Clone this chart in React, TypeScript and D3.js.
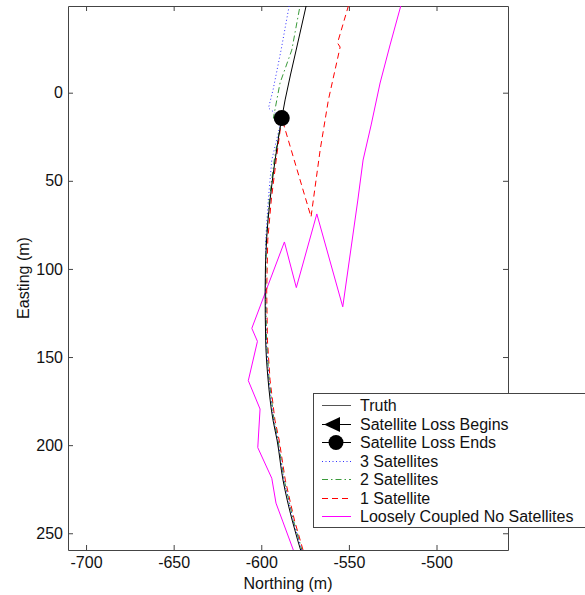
import React, { useRef, useEffect } from 'react';
import * as d3 from 'd3';

// [northing, easting] pairs
const truth = [
  [-573.1, -55], [-580.1, -24.2], [-586.4, 4.1], [-588.3, 14.4], [-592.1, 38.2], [-595, 60.9],
  [-597, 83.6], [-597.8, 112], [-597.5, 140.4], [-596.1, 163], [-593.3, 185.8], [-591, 197.1],
  [-587.6, 219.8], [-582.4, 242.5], [-575.9, 265],
];
const sat3 = [
  [-582.8, -55], [-584.1, -49.2], [-588.7, -24.2], [-593.3, -1.5], [-595.9, 8.7], [-588.3, 14.4],
  [-594, 38.2], [-596, 60.9], [-597.5, 83.6], [-597.6, 112], [-597.2, 140.4], [-595.7, 163],
  [-592.9, 185.8], [-590.6, 197.1], [-587.1, 219.8], [-581.9, 242.5], [-575.4, 265],
];
const sat2 = [
  [-576.7, -55], [-577.9, -49.2], [-582.6, -24.2], [-589.3, -5.5], [-593.1, 14.4], [-588.3, 14.4],
  [-592.6, 38.2], [-595.4, 60.9], [-597.2, 83.6], [-597.5, 112], [-597, 140.4], [-595.5, 163],
  [-592.7, 185.8], [-590.4, 197.1], [-586.9, 219.8], [-581.7, 242.5], [-575.2, 265],
];
const sat1 = [
  [-548.5, -55], [-550.3, -49.2], [-556.5, -28.2], [-555, -25.9], [-561.7, 4.1], [-566.4, 32.5],
  [-570.3, 60.9], [-571.6, 70.5], [-588.3, 14.4], [-591.5, 38.2], [-594.3, 60.9], [-596.3, 83.6],
  [-596.9, 112], [-596.5, 140.4], [-595, 163], [-592.2, 185.8], [-589.8, 197.1], [-586.3, 219.8],
  [-581.1, 242.5], [-574.6, 265],
];
const looselyCoupled = [
  [-518.7, -55.4], [-520.4, -49.2], [-526.5, -27.1], [-532.2, -5.5], [-537.3, 18.3], [-541.9, 38.2],
  [-544.9, 60.9], [-553.5, 121.5], [-568.3, 68.8], [-580, 110.6], [-586.8, 84.7], [-605.4, 133.7],
  [-602.2, 141.1], [-607.4, 163.4], [-600.7, 179.5], [-602, 201.4], [-594, 218.8], [-591.6, 232.9],
  [-587.8, 243.1], [-579.6, 265.2],
];
const lossEnds = [[-588.3, 14.4]];

const xTicks = [-700, -650, -600, -550, -500];
const yTicks = [0, 50, 100, 150, 200, 250];
const legendLabels = [
  'Truth',
  'Satellite Loss Begins',
  'Satellite Loss Ends',
  '3 Satellites',
  '2 Satellites',
  '1 Satellite',
  'Loosely Coupled No Satellites',
];

const FONT = '"Liberation Sans", Arial, sans-serif';
const FS = 16;

const App = () => {
  const svgRef = useRef(null);

  useEffect(() => {
    const svg = d3.select(svgRef.current);
    svg.selectAll('*').remove();

    const left = 68, right = 508, top = 6, bottom = 550;
    const x = d3.scaleLinear().domain([-710.3, -459.2]).range([left, right]);
    const y = d3.scaleLinear().domain([-49.2, 259.5]).range([top, bottom]);

    svg.append('rect').attr('width', 585).attr('height', 595).attr('fill', '#fff');

    svg.append('clipPath').attr('id', 'plot-clip')
      .append('rect')
      .attr('x', left).attr('y', top).attr('width', right - left).attr('height', bottom - top);

    const styleAxis = (g) => {
      g.attr('font-family', FONT).attr('font-size', FS);
      g.selectAll('path, line').attr('stroke', '#444');
      g.selectAll('text').attr('fill', '#111');
    };
    const fmt = (d) => String(d);

    svg.append('g').attr('transform', `translate(0,${bottom})`)
      .call(d3.axisBottom(x).tickValues(xTicks).tickFormat(fmt).tickSizeInner(-5).tickSizeOuter(0).tickPadding(7))
      .call(styleAxis);
    svg.append('g').attr('transform', `translate(${left},0)`)
      .call(d3.axisLeft(y).tickValues(yTicks).tickFormat(fmt).tickSizeInner(-5).tickSizeOuter(0).tickPadding(5))
      .call(styleAxis);
    svg.append('g').attr('transform', `translate(0,${top})`)
      .call(d3.axisTop(x).tickValues(xTicks).tickSizeInner(-5).tickSizeOuter(0).tickFormat(() => ''))
      .call(styleAxis);
    svg.append('g').attr('transform', `translate(${right},0)`)
      .call(d3.axisRight(y).tickValues(yTicks).tickSizeInner(-5).tickSizeOuter(0).tickFormat(() => ''))
      .call(styleAxis);

    const plot = svg.append('g').attr('clip-path', 'url(#plot-clip)');
    const line = d3.line().x((d) => x(d[0])).y((d) => y(d[1]));
    const smooth = d3.line().curve(d3.curveMonotoneY).x((d) => x(d[0])).y((d) => y(d[1]));

    const series = [
      { data: looselyCoupled, color: '#ff00ff', dash: null, gen: line },
      { data: sat1, color: '#ff0000', dash: '6,4', gen: line },
      { data: sat2, color: '#3a9a3a', dash: '6,3,1.5,3', gen: line },
      { data: sat3, color: '#3030ff', dash: '1,2.5', gen: line },
      { data: truth, color: '#000', dash: null, gen: smooth },
    ];
    series.forEach((s) => {
      plot.append('path')
        .attr('d', s.gen(s.data))
        .attr('fill', 'none')
        .attr('stroke', s.color)
        .attr('stroke-width', 1)
        .attr('stroke-dasharray', s.dash);
    });

    plot.selectAll('circle.end')
      .data(lossEnds)
      .join('circle')
      .attr('class', 'end')
      .attr('cx', (d) => x(d[0]))
      .attr('cy', (d) => y(d[1]))
      .attr('r', 8)
      .attr('fill', '#000');

    // legend
    const lg = svg.append('g');
    lg.append('rect')
      .attr('x', 313.5).attr('y', 393.5).attr('width', 280).attr('height', 134)
      .attr('fill', '#fff').attr('stroke', '#444');
    const legendStyles = [
      { color: '#555', dash: null, marker: null },
      { color: '#000', dash: null, marker: 'tri' },
      { color: '#000', dash: null, marker: 'circle' },
      { color: '#3030ff', dash: '1,2.5', marker: null },
      { color: '#3a9a3a', dash: '6,3,1.5,3', marker: null },
      { color: '#ff0000', dash: '6,4', marker: null },
      { color: '#ff00ff', dash: null, marker: null },
    ];
    legendLabels.forEach((label, i) => {
      const cy = Math.round(405 + i * 18.5) + 0.5;
      const st = legendStyles[i];
      lg.append('line')
        .attr('x1', 322).attr('x2', 351).attr('y1', cy).attr('y2', cy)
        .attr('stroke', st.color).attr('stroke-width', 1).attr('stroke-dasharray', st.dash);
      if (st.marker === 'tri') {
        lg.append('path')
          .attr('d', `M324,${cy} L340,${cy - 7.5} L340,${cy + 7.5} Z`)
          .attr('fill', '#000');
      } else if (st.marker === 'circle') {
        lg.append('circle').attr('cx', 336).attr('cy', cy).attr('r', 7.5).attr('fill', '#000');
      }
      lg.append('text')
        .attr('x', 360).attr('y', cy).attr('dy', '0.36em')
        .attr('font-family', FONT).attr('font-size', FS).attr('fill', '#111')
        .text(label);
    });

    svg.append('text')
      .attr('x', (left + right) / 2).attr('y', 589)
      .attr('text-anchor', 'middle')
      .attr('font-family', FONT).attr('font-size', FS).attr('fill', '#111')
      .text('Northing (m)');

    svg.append('text')
      .attr('transform', `translate(29,${(top + bottom) / 2}) rotate(-90)`)
      .attr('text-anchor', 'middle')
      .attr('font-family', FONT).attr('font-size', FS).attr('fill', '#111')
      .text('Easting (m)');
  }, []);

  return (
    <svg
      ref={svgRef}
      width={585}
      height={595}
      style={{ position: 'absolute', left: 0, top: 0, display: 'block' }}
    />
  );
};

export default App;
